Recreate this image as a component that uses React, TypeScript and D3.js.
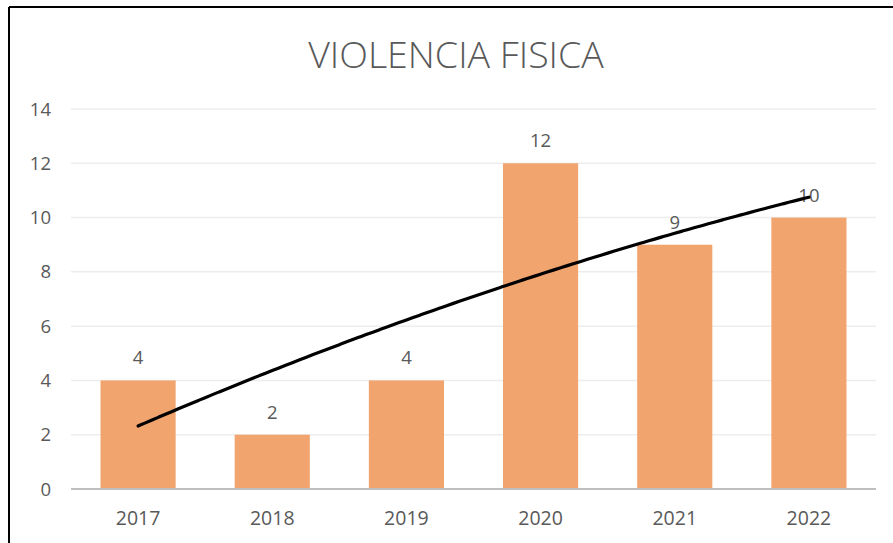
import React from "react";
import * as d3 from "d3";

const years = ["2017", "2018", "2019", "2020", "2021", "2022"];
const values = [4, 2, 4, 12, 9, 10];
const yTicks = [0, 2, 4, 6, 8, 10, 12, 14];
const title = "VIOLENCIA FISICA";

// polynomial (order 2) least-squares trend
function polyFit(ys: number[]) {
  const xs = ys.map((_, i) => i + 1);
  const S = [0, 0, 0, 0, 0];
  const T = [0, 0, 0];
  xs.forEach((x, i) => {
    for (let k = 0; k < 5; k++) S[k] += Math.pow(x, k);
    for (let k = 0; k < 3; k++) T[k] += Math.pow(x, k) * ys[i];
  });
  const A = [
    [S[0], S[1], S[2], T[0]],
    [S[1], S[2], S[3], T[1]],
    [S[2], S[3], S[4], T[2]],
  ];
  for (let i = 0; i < 3; i++) {
    for (let j = i + 1; j < 3; j++) {
      const f = A[j][i] / A[i][i];
      for (let k = i; k < 4; k++) A[j][k] -= f * A[i][k];
    }
  }
  const c = [0, 0, 0];
  for (let i = 2; i >= 0; i--) {
    let s = A[i][3];
    for (let k = i + 1; k < 3; k++) s -= A[i][k] * c[k];
    c[i] = s / A[i][i];
  }
  return (x: number) => c[0] + c[1] * x + c[2] * x * x;
}

export default function App() {
  const W = 893, H = 543;
  const left = 71, right = 876, top = 109, bottom = 489;
  const x = d3.scaleBand().domain(years).range([left, right]).paddingInner(0.44).paddingOuter(0.22);
  const y = d3.scaleLinear().domain([0, 14]).range([bottom, top]);
  const trend = polyFit(values);
  const step = (right - left) / years.length;
  const xc = d3.scaleLinear().domain([1, 6]).range([left + step / 2, right - step / 2]);
  const pts: [number, number][] = d3.range(1, 6.001, 0.05).map((t) => [xc(t), y(trend(t))]);
  const line = d3.line().curve(d3.curveMonotoneX)(pts) || "";
  const font = "'Open Sans', sans-serif";
  const txt = "#595959";

  return (
    <div style={{ position: "absolute", left: 0, top: 0 }}>
      <svg width={W} height={H} style={{ display: "block", background: "#fff" }}>
        <rect x={0} y={0} width={W} height={H} fill="#fff" />
        <line x1={9} y1={7} x2={W} y2={7} stroke="#000" strokeWidth={2} />
        <line x1={9} y1={7} x2={9} y2={H} stroke="#000" strokeWidth={2} />
        <text x={456} y={68} textAnchor="middle" fontFamily={font} fontWeight={300} fontSize={37.5} fill={txt}>
          {title}
        </text>
        {yTicks.map((t) => (
          <g key={t}>
            {t > 0 && <line x1={left} x2={right} y1={y(t)} y2={y(t)} stroke="#EDEDED" strokeWidth={1.5} />}
            <text x={51} y={y(t) + 6.5} textAnchor="end" fontFamily={font} fontSize={18.5} fill={txt}>
              {t}
            </text>
          </g>
        ))}
        {years.map((yr, i) => (
          <g key={yr}>
            <rect x={x(yr)} y={y(values[i])} width={x.bandwidth()} height={y(0) - y(values[i])} fill="#F1A46D" />
            <text x={(x(yr) || 0) + x.bandwidth() / 2} y={y(values[i]) - 16} textAnchor="middle" fontFamily={font} fontSize={18.5} fill={txt}>
              {values[i]}
            </text>
            <text x={(x(yr) || 0) + x.bandwidth() / 2} y={525} textAnchor="middle" fontFamily={font} fontSize={19.5} fill={txt}>
              {yr}
            </text>
          </g>
        ))}
        <line x1={left} x2={right} y1={bottom} y2={bottom} stroke="#BFBFBF" strokeWidth={2} />
        <path d={line} fill="none" stroke="#000" strokeWidth={3.2} strokeLinecap="round" />
      </svg>
    </div>
  );
}
